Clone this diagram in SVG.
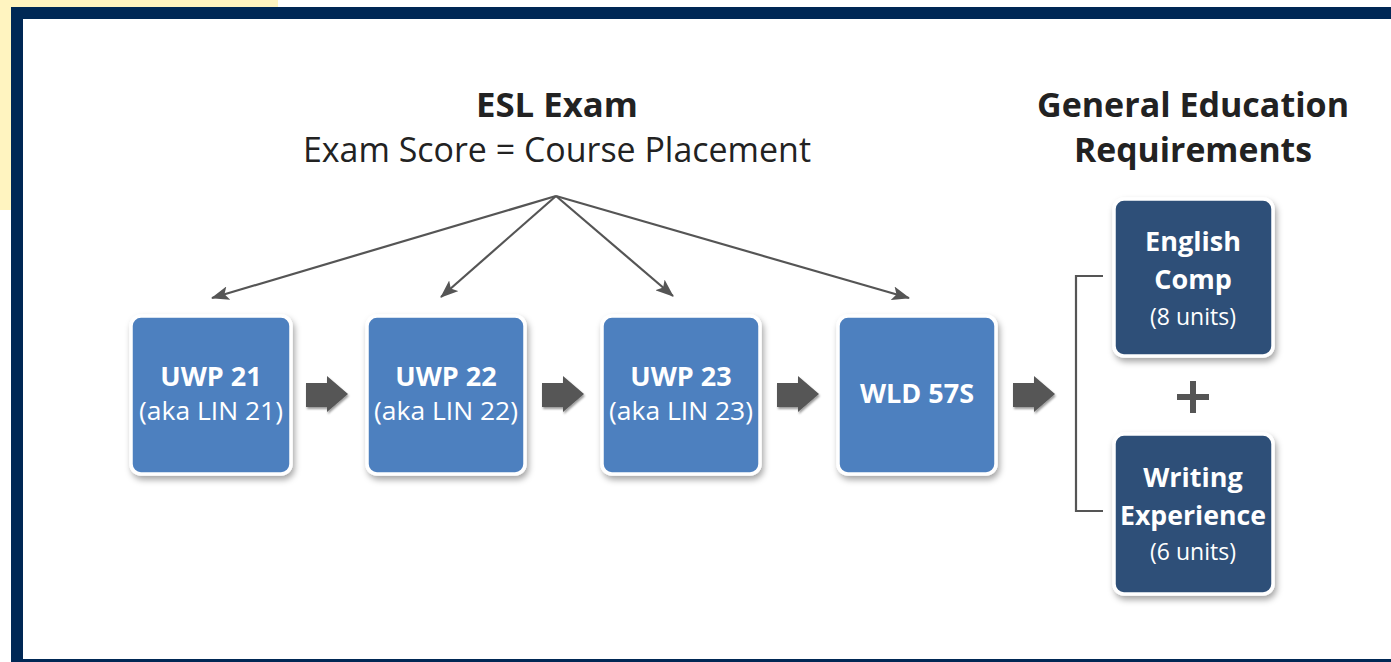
<svg xmlns="http://www.w3.org/2000/svg" width="1391" height="662" viewBox="0 0 1391 662">
<defs>
<style>
.title{font-family:"Open Sans","Liberation Sans",sans-serif;fill:#222;text-anchor:middle}
.b{font-weight:bold}
.lt{font-family:"Open Sans","Liberation Sans",sans-serif;fill:#fff;text-anchor:middle}
.box{fill:#4e80bf;stroke:#fff;stroke-width:3.5}
.dbox{fill:#2f5078;stroke:#fff;stroke-width:3.5}
.conn{stroke:#555;stroke-width:2.2;fill:none}
.blk{fill:#575757}
</style>
<filter id="sh" x="-20%" y="-20%" width="140%" height="140%">
<feDropShadow dx="2" dy="4" stdDeviation="3" flood-color="#000" flood-opacity="0.35"/>
</filter>
<filter id="sh2" x="-30%" y="-30%" width="160%" height="160%">
<feDropShadow dx="1" dy="2" stdDeviation="1.2" flood-color="#000" flood-opacity="0.4"/>
</filter>
<marker id="ah" viewBox="0 0 18 14" refX="17" refY="7" markerWidth="18" markerHeight="14" markerUnits="userSpaceOnUse" orient="auto">
<path d="M0,0 L18,7 L0,14 L4,7 Z" fill="#555"/>
</marker>
<path id="blkarrow" d="M0,7 H21 V0 L42,18 L21,36 V31 H0 Z"/>
</defs>
<rect x="0" y="0" width="1391" height="662" fill="#fff"/>
<rect x="0" y="0" width="278" height="210" fill="#fff4c0"/>
<rect x="17" y="13" width="1380" height="652" fill="#fff" stroke="#002855" stroke-width="12"/>

<g id="title-esl">
<text class="title b" x="557" y="117" font-size="34" textLength="162" lengthAdjust="spacingAndGlyphs">ESL Exam</text>
<text class="title" x="557" y="162" font-size="34" textLength="508" lengthAdjust="spacingAndGlyphs">Exam Score = Course Placement</text>
</g>
<g id="title-ge">
<text class="title b" x="1193" y="117" font-size="34" textLength="312" lengthAdjust="spacingAndGlyphs">General Education</text>
<text class="title b" x="1193" y="162" font-size="34" textLength="238" lengthAdjust="spacingAndGlyphs">Requirements</text>
</g>

<g id="connectors">
<line class="conn" x1="556" y1="196" x2="212" y2="298" marker-end="url(#ah)"/>
<line class="conn" x1="556" y1="196" x2="441" y2="297" marker-end="url(#ah)"/>
<line class="conn" x1="556" y1="196" x2="673" y2="296" marker-end="url(#ah)"/>
<line class="conn" x1="556" y1="196" x2="909" y2="298" marker-end="url(#ah)"/>
<path class="conn" d="M1103,276 H1076 V511 H1103" stroke="#666"/>
<g filter="url(#sh2)">
<use href="#blkarrow" class="blk" x="306" y="376"/>
<use href="#blkarrow" class="blk" x="542" y="376"/>
<use href="#blkarrow" class="blk" x="777" y="376"/>
<use href="#blkarrow" class="blk" x="1013" y="376"/>
</g>
</g>

<g id="uwp21">
<rect class="box" x="131" y="316" width="160" height="158" rx="10" filter="url(#sh)"/>
<text class="lt b" x="211" y="386" font-size="27">UWP 21</text>
<text class="lt" x="211" y="420" font-size="25" textLength="144" lengthAdjust="spacingAndGlyphs">(aka LIN 21)</text>
</g>
<g id="uwp22">
<rect class="box" x="367" y="316" width="158" height="158" rx="10" filter="url(#sh)"/>
<text class="lt b" x="446" y="386" font-size="27">UWP 22</text>
<text class="lt" x="446" y="420" font-size="25" textLength="144" lengthAdjust="spacingAndGlyphs">(aka LIN 22)</text>
</g>
<g id="uwp23">
<rect class="box" x="602" y="316" width="158" height="158" rx="10" filter="url(#sh)"/>
<text class="lt b" x="681" y="386" font-size="27">UWP 23</text>
<text class="lt" x="681" y="420" font-size="25" textLength="144" lengthAdjust="spacingAndGlyphs">(aka LIN 23)</text>
</g>
<g id="wld57s">
<rect class="box" x="838" y="316" width="158" height="158" rx="10" filter="url(#sh)"/>
<text class="lt b" x="917" y="403" font-size="27">WLD 57S</text>
</g>

<g id="english-comp">
<rect class="dbox" x="1114" y="199" width="159" height="157" rx="10" filter="url(#sh)"/>
<text class="lt b" x="1193" y="251" font-size="27">English</text>
<text class="lt b" x="1193" y="289" font-size="27">Comp</text>
<text class="lt" x="1193" y="325" font-size="23">(8 units)</text>
</g>
<g id="plus">
<rect x="1190" y="381" width="6" height="32" fill="#555"/>
<rect x="1177" y="394" width="32" height="6" fill="#555"/>
</g>
<g id="writing-experience">
<rect class="dbox" x="1114" y="434" width="159" height="160" rx="10" filter="url(#sh)"/>
<text class="lt b" x="1193" y="487" font-size="27">Writing</text>
<text class="lt b" x="1193" y="525" font-size="27" textLength="146" lengthAdjust="spacingAndGlyphs">Experience</text>
<text class="lt" x="1193" y="560" font-size="23">(6 units)</text>
</g>
</svg>
